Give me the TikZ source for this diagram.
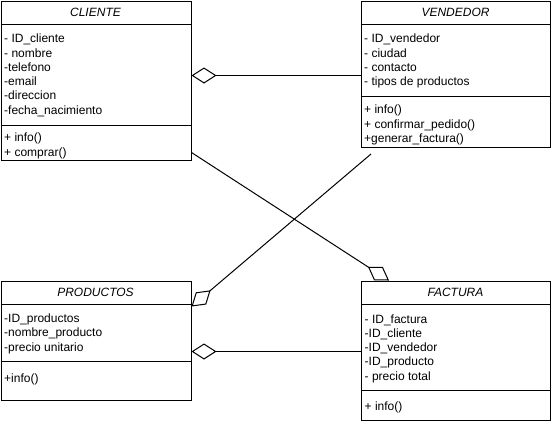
\documentclass[tikz,border=0pt]{standalone}
\usepackage{fontspec}
\setmainfont{Liberation Sans}
\usetikzlibrary{arrows.meta,calc}
\begin{document}
\begin{tikzpicture}[x=1pt,y=-1pt,
  cls/.style={draw=black,line width=1pt,rectangle,anchor=north west,inner sep=0pt},
  txt/.style={anchor=base west,inner sep=0pt,font=\fontsize{12}{14.4}\selectfont},
  ttl/.style={anchor=base,inner sep=0pt,font=\fontsize{12}{14.4}\selectfont\itshape},
  sep/.style={line width=1pt},
  agg/.style={line width=1pt,-{Diamond[open,length=25pt,width=16pt]}}]
\useasboundingbox (0,0) rectangle (551,421);
% boxes
\node[cls,minimum width=190pt,minimum height=159pt] (cliente) at (0.5,0.5) {};
\node[cls,minimum width=189.5pt,minimum height=146pt] (vendedor) at (360.5,0.5) {};
\node[cls,minimum width=190pt,minimum height=119pt] (productos) at (0.5,280.5) {};
\node[cls,minimum width=189pt,minimum height=139.5pt] (factura) at (361,280.5) {};
% separators
\draw[sep] ($(cliente.north west)+(0,24)$) -- ($(cliente.north east)+(0,24)$);
\draw[sep] ($(cliente.north west)+(0,124.5)$) -- ($(cliente.north east)+(0,124.5)$);
\draw[sep] ($(vendedor.north west)+(0,24)$) -- ($(vendedor.north east)+(0,24)$);
\draw[sep] ($(vendedor.north west)+(0,95.5)$) -- ($(vendedor.north east)+(0,95.5)$);
\draw[sep] ($(productos.north west)+(0,23.5)$) -- ($(productos.north east)+(0,23.5)$);
\draw[sep] ($(productos.north west)+(0,80.5)$) -- ($(productos.north east)+(0,80.5)$);
\draw[sep] ($(factura.north west)+(0,23.5)$) -- ($(factura.north east)+(0,23.5)$);
\draw[sep] ($(factura.north west)+(0,109.5)$) -- ($(factura.north east)+(0,109.5)$);
% titles
\node[ttl] (tcl) at (95.5,16.5) {CLIENTE};
\node[ttl] (tve) at (455.5,16.5) {VENDEDOR};
\node[ttl] (tpr) at (95.5,296.5) {PRODUCTOS};
\node[ttl] (tfa) at (455.5,296.5) {FACTURA};
% CLIENTE
\foreach \t [count=\i] in {- ID\_cliente,- nombre,-telefono,-email,-direccion,-fecha\_nacimiento}
  \node[txt] (cla\i) at (4,{42.7+14.3*(\i-1)}) {\t};
\foreach \t [count=\i] in {+ info(),+ comprar()}
  \node[txt] (clm\i) at (4,{141.5+14.5*(\i-1)}) {\t};
% VENDEDOR
\foreach \t [count=\i] in {- ID\_vendedor,- ciudad,- contacto,- tipos de productos}
  \node[txt] (vea\i) at (364,{42.7+14.3*(\i-1)}) {\t};
\foreach \t [count=\i] in {+ info(),+ confirmar\_pedido(),+generar\_factura()}
  \node[txt] (vem\i) at (364,{113.5+14.5*(\i-1)}) {\t};
% PRODUCTOS
\foreach \t [count=\i] in {-ID\_productos,-nombre\_producto,-precio unitario}
  \node[txt] (pra\i) at (4,{322.5+14.4*(\i-1)}) {\t};
\node[txt] (prm1) at (4,382) {+info()};
% FACTURA
\foreach \t [count=\i] in {- ID\_factura,-ID\_cliente,-ID\_vendedor,-ID\_producto,- precio total}
  \node[txt] (faa\i) at (364.5,{323+14.3*(\i-1)}) {\t};
\node[txt] (fam1) at (364.5,410) {+ info()};
% connectors
\coordinate (vs) at (371,154);
\draw[agg] ($(vendedor.north west)+(0,75)$) -- ($(cliente.north east)+(0,75)$);
\draw[agg] ($(cliente.north east)+(0,152)$) -- ($(factura.north west)+(28,0)$);
\draw[agg] (vs) -- ($(productos.north east)+(0,26)$);
\draw[agg] ($(factura.north west)+(0,71)$) -- ($(productos.north east)+(0,71)$);
\end{tikzpicture}
\end{document}
